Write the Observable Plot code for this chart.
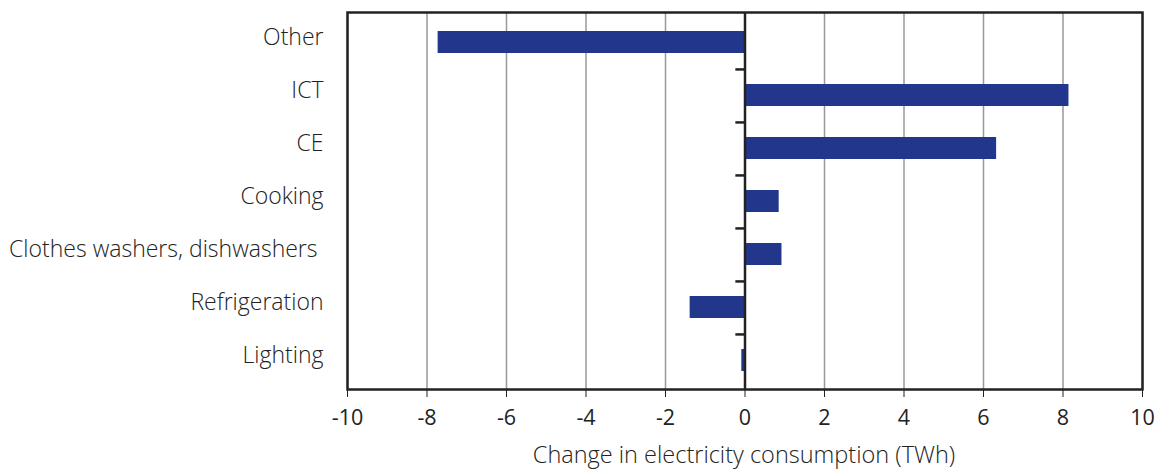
<!DOCTYPE html>
<html>
<head>
<meta charset="utf-8">
<script src="https://cdn.jsdelivr.net/npm/d3@7"></script>
<script src="https://cdn.jsdelivr.net/npm/@observablehq/plot@0.6"></script>
<style>
  html, body { margin: 0; padding: 0; background: #fff; }
</style>
</head>
<body>
<div id="chart"></div>
<script>
const categories = ["Other", "ICT", "CE", "Cooking", "Clothes washers, dishwashers\u00a0", "Refrigeration", "Lighting"];
const values = [-7.72, 8.15, 6.33, 0.86, 0.93, -1.38, -0.08];
const xTicks = [-10, -8, -6, -4, -2, 0, 2, 4, 6, 8, 10];
const xLabel = "Change in electricity consumption (TWh)";

const data = categories.map((c, i) => ({category: c, value: values[i]}));
const boundaries = categories.slice(0, -1);

const H = 470, mTop = 12, mBottom = 81;
const bandStep = (H - mTop - mBottom) / categories.length;
const fmt = d => (d < 0 ? "-" + Math.abs(d) : String(d));

const chart = Plot.plot({
  width: 1157,
  height: H,
  marginLeft: 347,
  marginRight: 15,
  marginTop: mTop,
  marginBottom: mBottom,
  style: {fontFamily: "'Open Sans', sans-serif", fontSize: "21.5px", color: "#222", background: "#fff"},
  x: {domain: [-10, 10]},
  y: {domain: categories, paddingInner: 0.59, paddingOuter: 0.295},
  marks: [
    Plot.gridX(xTicks, {stroke: "#999", strokeOpacity: 1, strokeWidth: 1.5}),
    Plot.barX(data, {x: "value", y: "category", fill: "#22368c"}),
    Plot.ruleY(boundaries, {y: d => d, dy: bandStep / 2, x1: -0.23, x2: 0, stroke: "#222", strokeWidth: 2.5}),
    Plot.ruleX([0], {stroke: "#222", strokeWidth: 2.5}),
    Plot.frame({stroke: "#222", strokeWidth: 2.5}),
    Plot.axisY({tickSize: 0, tickPadding: 24, dy: -5, label: null, fontSize: 23, fontWeight: 300}),
    Plot.axisX({ticks: xTicks, tickSize: 8, tickPadding: 12, tickFormat: fmt, label: null}),
    Plot.text([xLabel], {frameAnchor: "bottom", dy: 73, dx: -1, fontSize: 23.5, fontWeight: 300, fill: "#222"})
  ]
});
document.getElementById("chart").appendChild(chart);
</script>
</body>
</html>
